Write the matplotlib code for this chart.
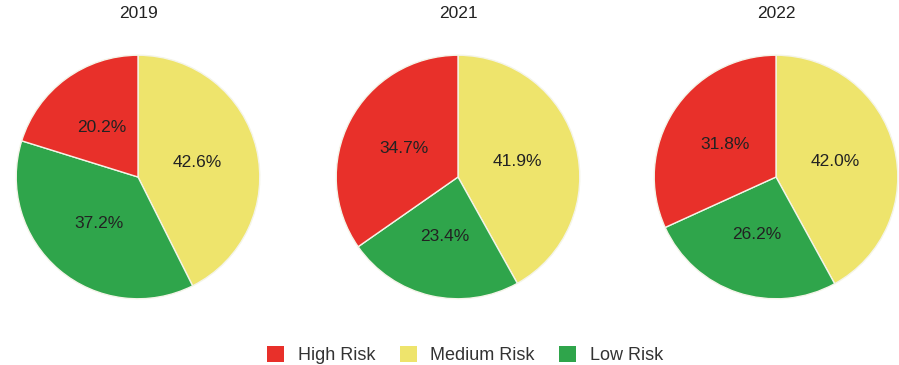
import matplotlib.pyplot as plt
from matplotlib.patches import Patch

plt.rcParams['font.family'] = ['Liberation Sans', 'DejaVu Sans']

# data
years = ["2019", "2021", "2022"]
categories = ["Medium Risk", "Low Risk", "High Risk"]
medium = [42.6, 41.9, 42.0]
low = [37.2, 23.4, 26.2]
high = [20.2, 34.7, 31.8]

colors = {"High Risk": "#e8302a", "Medium Risk": "#eee46c", "Low Risk": "#2fa54b"}

W, H = 899, 365
fig = plt.figure(figsize=(W / 100, H / 100), dpi=100)

centers_x = [138, 458, 776]
cy = 177
r = 123

for i, year in enumerate(years):
    ax = fig.add_axes([(centers_x[i] - r) / W, (H - cy - r) / H, 2 * r / W, 2 * r / H])
    vals = [medium[i], low[i], high[i]]
    wedges, texts, autotexts = ax.pie(
        vals,
        colors=[colors[c] for c in categories],
        startangle=90,
        counterclock=False,
        autopct="%.1f%%",
        pctdistance=0.5,
        wedgeprops=dict(edgecolor="#f4f4e8", linewidth=1),
        textprops=dict(fontsize=12.5, color="#222222"),
    )
    ax.set_xlim(-1.01, 1.01)
    ax.set_ylim(-1.01, 1.01)
    ax.set_aspect("equal")
    fig.text(centers_x[i] / W, (H - 14) / H, year, ha="center", va="center",
             fontsize=12.5, color="#222222")

handles = [Patch(facecolor=colors[c], edgecolor="none", label=c)
           for c in ["High Risk", "Medium Risk", "Low Risk"]]
fig.legend(handles=handles, loc="center", bbox_to_anchor=(465 / W, (H - 355) / H),
           ncol=3, frameon=False, fontsize=13, handlelength=0.95, handleheight=0.95,
           columnspacing=1.35, handletextpad=0.75, labelcolor="#333333")

plt.savefig("out.png", dpi=100)
plt.close(fig)
